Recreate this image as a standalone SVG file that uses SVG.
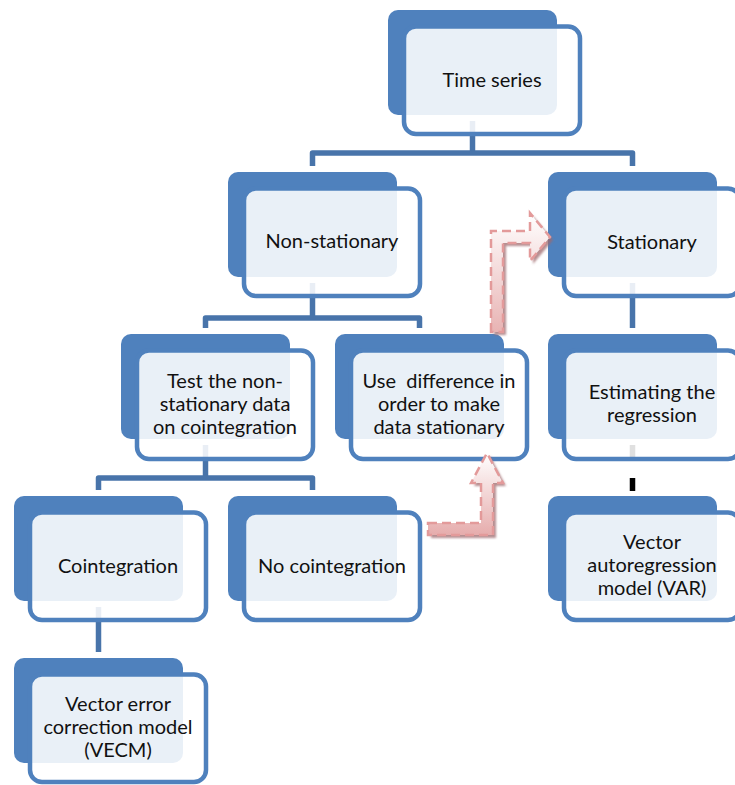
<svg xmlns="http://www.w3.org/2000/svg" width="735" height="785" viewBox="0 0 735 785">
<style>
.back{fill:#4F81BD}
.front{fill:#FFFFFF;fill-opacity:0.88;stroke:#4F81BD;stroke-width:4.5}
.lbl{font-family:Lato,"Liberation Sans",sans-serif;font-size:20px;fill:#111;text-anchor:middle;white-space:pre}
.conn{fill:none;stroke:#4874AA;stroke-width:5.5;stroke-linejoin:round}
.arr{stroke:#E39A9A;stroke-width:2.5;stroke-dasharray:9 5}
.shadow{fill:#9E6A6E;fill-opacity:0.75}
</style>
<defs>
<linearGradient id="g1" x1="0" y1="0" x2="0" y2="1">
<stop offset="0" stop-color="#FFFFFF"/>
<stop offset="1" stop-color="#E8B3B3"/>
</linearGradient>
<linearGradient id="g2" x1="0" y1="0" x2="0" y2="1">
<stop offset="0" stop-color="#FFFFFF"/>
<stop offset="1" stop-color="#E6ACAC"/>
</linearGradient>
<filter id="blur" x="-10%" y="-10%" width="120%" height="120%"><feGaussianBlur stdDeviation="0.8"/></filter>
</defs>

<g id="connectors">
<path class="conn" d="M472.5 121 V153"/>
<path class="conn" d="M312.5 166 V153 H632.5 V166"/>
<path class="conn" d="M312.5 283 V318"/>
<path class="conn" d="M205.5 328 V318 H419.5 V328"/>
<path class="conn" d="M205.5 445 V478"/>
<path class="conn" d="M98.5 490 V478 H312.5 V490"/>
<path class="conn" d="M98.5 607 V652"/>
<path class="conn" d="M632.5 283 V328"/>
<path fill="none" stroke="#000" stroke-width="5.5" stroke-dasharray="15 18 13 40" d="M632.5 445 V491"/>
</g>

<g id="n-time-series">
<rect class="back" x="388" y="10" width="169" height="105" rx="10"/>
<rect class="front" x="404" y="26.5" width="176" height="107.5" rx="12"/>
<text class="lbl" x="492" y="87">Time series</text>
</g>

<g id="n-non-stationary">
<rect class="back" x="228" y="172" width="169" height="105" rx="10"/>
<rect class="front" x="244" y="188.5" width="176" height="107.5" rx="12"/>
<text class="lbl" x="332" y="248">Non-stationary</text>
</g>

<g id="n-stationary">
<rect class="back" x="548" y="172" width="169" height="105" rx="10"/>
<rect class="front" x="564" y="188.5" width="176" height="107.5" rx="12"/>
<text class="lbl" x="652" y="249">Stationary</text>
</g>

<g id="n-test">
<rect class="back" x="121" y="334" width="169" height="105" rx="10"/>
<rect class="front" x="137" y="350.5" width="176" height="108.5" rx="12"/>
<text class="lbl" x="225" y="388">Test the non-</text>
<text class="lbl" x="225" y="411">stationary data</text>
<text class="lbl" x="225" y="434">on cointegration</text>
</g>

<g id="n-difference">
<rect class="back" x="335" y="334" width="169" height="105" rx="10"/>
<rect class="front" x="351" y="350.5" width="176" height="108.5" rx="12"/>
<text class="lbl" x="439" y="388">Use  difference in</text>
<text class="lbl" x="439" y="411">order to make</text>
<text class="lbl" x="439" y="434">data stationary</text>
</g>

<g id="n-estimating">
<rect class="back" x="548" y="334" width="169" height="105" rx="10"/>
<rect class="front" x="564" y="350.5" width="176" height="108.5" rx="12"/>
<text class="lbl" x="652" y="399">Estimating the</text>
<text class="lbl" x="652" y="422">regression</text>
</g>

<g id="n-cointegration">
<rect class="back" x="14" y="496" width="169" height="105" rx="10"/>
<rect class="front" x="30" y="512.5" width="176" height="107.5" rx="12"/>
<text class="lbl" x="118" y="573">Cointegration</text>
</g>

<g id="n-no-cointegration">
<rect class="back" x="228" y="496" width="169" height="105" rx="10"/>
<rect class="front" x="244" y="512.5" width="176" height="107.5" rx="12"/>
<text class="lbl" x="332" y="573">No cointegration</text>
</g>

<g id="n-var">
<rect class="back" x="548" y="496" width="169" height="105" rx="10"/>
<rect class="front" x="564" y="512.5" width="176" height="107.5" rx="12"/>
<text class="lbl" x="652" y="549">Vector</text>
<text class="lbl" x="652" y="572">autoregression</text>
<text class="lbl" x="652" y="595">model (VAR)</text>
</g>

<g id="n-vecm">
<rect class="back" x="14" y="658" width="169" height="105" rx="10"/>
<rect class="front" x="30" y="674.5" width="176" height="107.5" rx="12"/>
<text class="lbl" x="118" y="711">Vector error</text>
<text class="lbl" x="118" y="734">correction model</text>
<text class="lbl" x="118" y="757">(VECM)</text>
</g>

<g id="arrows">
<g id="arrow-to-stationary">
<polygon class="shadow" filter="url(#blur)" transform="translate(3,3)" points="491,332 491,231 530,231 530,213 550,237 530,261 530,243 503,243 503,332"/>
<polygon class="arr" fill="url(#g1)" points="491,332 491,231 530,231 530,213 550,237 530,261 530,243 503,243 503,332"/>
</g>
<g id="arrow-to-difference">
<polygon class="shadow" filter="url(#blur)" transform="translate(3,3)" points="428,523 481,523 481,483 471,483 487,453 503,483 493,483 493,535 428,535"/>
<polygon class="arr" fill="url(#g2)" points="428,523 481,523 481,483 471,483 487,453 503,483 493,483 493,535 428,535"/>
</g>
</g>
</svg>
